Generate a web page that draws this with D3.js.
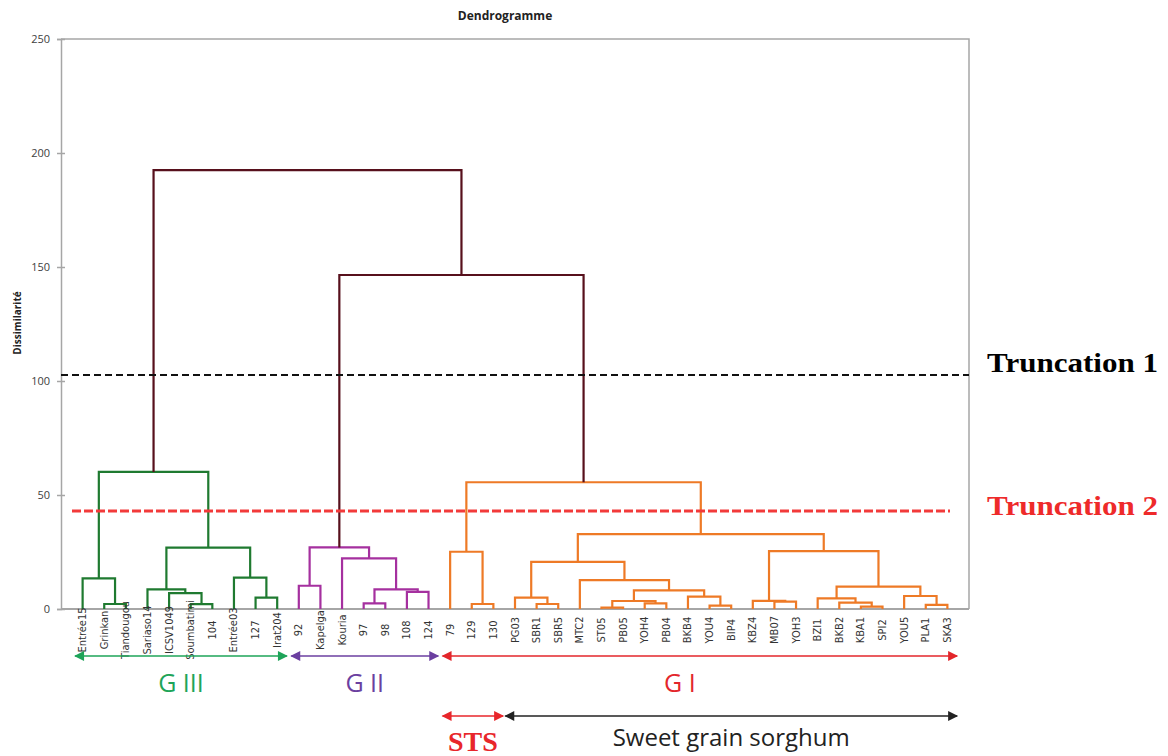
<!DOCTYPE html>
<html>
<head>
<meta charset="utf-8">
<script src="https://cdn.jsdelivr.net/npm/d3@7"></script>
<style>
  html, body { margin: 0; padding: 0; background: #fff; }
  svg { display: block; }
</style>
</head>
<body>
<svg id="chart" width="1168" height="756"></svg>
<script>
// Leaves in dendrogram order
const leaves = [
  "Entrée15", "Grinkan", "Tiandougou", "Sariaso14", "ICSV1049", "Soumbatimi", "104", "Entrée03", "127", "Irat204",
  "92", "Kapelga", "Kouria", "97", "98", "108", "124",
  "79", "129", "130", "PG03", "SBR1", "SBR5", "MTC2", "ST05", "PB05", "YOH4", "PB04", "BKB4", "YOU4", "BIP4",
  "KBZ4", "MB07", "YOH3", "BZI1", "BKB2", "KBA1", "SPI2", "YOU5", "PLA1", "SKA3"
];

// Agglomeration steps: a leaf name, or "#k" for the k-th merge
const mergeLeft = [
  "Grinkan", "Entrée15", "Soumbatimi", "ICSV1049", "Sariaso14", "127", "Entrée03", "#4", "#1",
  "92", "97", "108", "#10", "Kouria", "#9",
  "129", "79", "SBR1", "PG03", "ST05", "YOH4", "#19", "YOU4", "BKB4", "#21", "MTC2", "#18",
  "MB07", "KBZ4", "KBA1", "BKB2", "BZI1", "PLA1", "YOU5", "#31", "#28", "#26", "#16",
  "#14", "#8"
];
const mergeRight = [
  "Tiandougou", "#0", "104", "#2", "#3", "Irat204", "#5", "#6", "#7",
  "Kapelga", "98", "124", "#11", "#12", "#13",
  "130", "#15", "SBR5", "#17", "PB05", "PB04", "#20", "BIP4", "#22", "#23", "#24", "#25",
  "YOH3", "#27", "SPI2", "#29", "#30", "SKA3", "#32", "#33", "#34", "#35", "#36",
  "#37", "#38"
];
const mergeHeight = [
  2.2, 13.4, 2.1, 7.0, 8.6, 5.0, 13.8, 26.9, 60.1,
  10.2, 2.5, 7.5, 8.6, 22.2, 27.0,
  2.2, 25.1, 2.2, 5.0, 0.6, 2.5, 3.5, 1.5, 5.4, 8.2, 12.7, 20.7,
  3.2, 3.6, 1.0, 2.8, 4.7, 1.8, 5.7, 9.8, 25.4, 32.8, 55.6,
  146.5, 192.5
];
// Cluster of each merge: 3 = G III, 2 = G II, 1 = G I, 0 = above the groups
const mergeGroup = [
  3, 3, 3, 3, 3, 3, 3, 3, 3,
  2, 2, 2, 2, 2, 2,
  1, 1, 1, 1, 1, 1, 1, 1, 1, 1, 1, 1,
  1, 1, 1, 1, 1, 1, 1, 1, 1, 1, 1,
  0, 0
];

const yTicks = [0, 50, 100, 150, 200, 250];
const truncationLevels = [102.6, 43.0];
const truncationLabels = ["Truncation 1", "Truncation 2"];

const groupLabels = ["G III", "G II", "G I"];
const groupFirst = ["Entrée15", "92", "79"];
const groupLast = ["Irat204", "124", "SKA3"];

const subLabels = ["STS", "Sweet grain sorghum"];
const subFirst = ["79", "PG03"];
const subLast = ["130", "SKA3"];

// ---- styling ----
const linkColors = { 0: "#57101c", 1: "#ee7a26", 2: "#a5309f", 3: "#1f7a30" };
const groupColors = ["#1ea459", "#6b3fa0", "#e3262b"];
const subColors = ["#e8262b", "#222222"];

const svg = d3.select("#chart");
const plot = { left: 61, right: 969, top: 39, bottom: 609 };

const x = d3.scalePoint().domain(leaves).range([plot.left, plot.right]).padding(1);
const y = d3.scaleLinear().domain([0, 250]).range([plot.bottom, plot.top]);
const step = x.step();

// title
svg.append("text")
  .attr("x", 505).attr("y", 20)
  .attr("text-anchor", "middle")
  .attr("font-family", "Open Sans, Liberation Sans, sans-serif")
  .attr("font-weight", "bold").attr("font-size", 12)
  .attr("fill", "#222")
  .text("Dendrogramme");

// frame (top and right)
svg.append("path")
  .attr("d", `M${plot.left},${plot.top}H${plot.right}V${plot.bottom}`)
  .attr("fill", "none").attr("stroke", "#a6a6a6").attr("stroke-width", 1.5);

// y axis
const yAxis = svg.append("g")
  .attr("transform", `translate(${plot.left},0)`)
  .call(d3.axisLeft(y).tickValues(yTicks).tickSize(4).tickPadding(7));
yAxis.select(".domain").attr("stroke", "#a6a6a6").attr("stroke-width", 1.5);
yAxis.selectAll(".tick line").attr("stroke", "#a6a6a6").attr("stroke-width", 1.5).attr("x2", -4)
  .each(function () { d3.select(this).attr("x1", 4); });
yAxis.selectAll(".tick text")
  .attr("font-family", "Open Sans, Liberation Sans, sans-serif")
  .attr("font-size", 11).attr("fill", "#404040");

svg.append("text")
  .attr("transform", `translate(17,323) rotate(-90)`)
  .attr("text-anchor", "middle").attr("dominant-baseline", "central")
  .attr("font-family", "Open Sans, Liberation Sans, sans-serif")
  .attr("font-weight", "bold").attr("font-size", 10).attr("fill", "#222")
  .text("Dissimilarité");

// bottom axis line
svg.append("line")
  .attr("x1", plot.left).attr("x2", plot.right)
  .attr("y1", y(0)).attr("y2", y(0))
  .attr("stroke", "#a6a6a6").attr("stroke-width", 2);

// resolve merges into nodes with x position and height
const nodes = [];
function resolve(ref) {
  if (ref.startsWith("#")) return nodes[+ref.slice(1)];
  return { x: x(ref), h: 0 };
}
mergeHeight.forEach((h, i) => {
  const a = resolve(mergeLeft[i]);
  const b = resolve(mergeRight[i]);
  nodes.push({ a, b, h, x: (a.x + b.x) / 2, group: mergeGroup[i] });
});

// dendrogram links
svg.append("g")
  .attr("fill", "none").attr("stroke-width", 2.2).attr("stroke-linejoin", "miter")
  .selectAll("path")
  .data(nodes)
  .join("path")
  .attr("stroke", d => linkColors[d.group])
  .attr("d", d => `M${d.a.x},${y(d.a.h)}V${y(d.h)}H${d.b.x}V${y(d.b.h)}`);

// truncation lines
svg.append("line")
  .attr("x1", plot.left).attr("x2", plot.right)
  .attr("y1", y(truncationLevels[0])).attr("y2", y(truncationLevels[0]))
  .attr("stroke", "#111").attr("stroke-width", 2).attr("stroke-dasharray", "7,4");
svg.append("line")
  .attr("x1", 72).attr("x2", 950)
  .attr("y1", y(truncationLevels[1])).attr("y2", y(truncationLevels[1]))
  .attr("stroke", "#f23a3a").attr("stroke-width", 3).attr("stroke-dasharray", "9,3");

svg.selectAll("text.trunc")
  .data(truncationLabels)
  .join("text")
  .attr("class", "trunc")
  .attr("x", 987)
  .attr("y", (d, i) => y(truncationLevels[i]) + (i === 0 ? -3 : 4))
  .attr("font-family", "Liberation Serif, Times New Roman, serif")
  .attr("font-weight", "bold").attr("font-size", 27)
  .attr("textLength", 171).attr("lengthAdjust", "spacingAndGlyphs")
  .attr("fill", (d, i) => i === 0 ? "#000" : "#ee2a2a")
  .text(d => d);

// leaf labels
svg.append("g")
  .selectAll("text")
  .data(leaves)
  .join("text")
  .attr("transform", d => `translate(${x(d)},630) rotate(-90)`)
  .attr("text-anchor", "middle").attr("dominant-baseline", "central")
  .attr("font-family", "Liberation Sans Narrow, DejaVu Sans Condensed, Open Sans, sans-serif")
  .attr("font-size", 11).attr("fill", "#333")
  .text(d => d);

// double-headed arrows
const defs = svg.append("defs");
function marker(id, color) {
  defs.append("marker")
    .attr("id", id).attr("viewBox", "0 0 10 10")
    .attr("refX", 9).attr("refY", 5)
    .attr("markerWidth", 12).attr("markerHeight", 10)
    .attr("markerUnits", "userSpaceOnUse")
    .attr("orient", "auto-start-reverse")
    .append("path").attr("d", "M0,0L10,5L0,10Z").attr("fill", color);
}
function arrow(x1, x2, yy, color, id) {
  marker(id, color);
  svg.append("line")
    .attr("x1", x1).attr("x2", x2).attr("y1", yy).attr("y2", yy)
    .attr("stroke", color).attr("stroke-width", 1.6)
    .attr("marker-start", `url(#${id})`).attr("marker-end", `url(#${id})`);
}
const padL = step * 0.35, padR = step * 0.45;

groupLabels.forEach((g, i) => {
  const x1 = x(groupFirst[i]) - padL, x2 = x(groupLast[i]) + padR;
  arrow(x1, x2, 656, groupColors[i], "mg" + i);
  const cx = i === 2 ? (x1 + x2) / 2 - 20 : (x1 + x2) / 2;
  svg.append("text")
    .attr("x", cx).attr("y", 692)
    .attr("text-anchor", "middle")
    .attr("font-family", "Open Sans, Lato, sans-serif")
    .attr("font-size", 25).attr("fill", groupColors[i])
    .text(g);
});

subLabels.forEach((s, i) => {
  const x1 = x(subFirst[i]) - (i === 0 ? padL : padR), x2 = x(subLast[i]) + padR;
  arrow(x1, x2, 716, subColors[i], "ms" + i);
  svg.append("text")
    .attr("x", (x1 + x2) / 2).attr("y", i === 0 ? 751 : 746)
    .attr("text-anchor", "middle")
    .attr("font-family", i === 0 ? "Liberation Serif, Times New Roman, serif" : "Open Sans, Lato, sans-serif")
    .attr("font-weight", i === 0 ? "bold" : "normal")
    .attr("font-size", i === 0 ? 28 : 24)
    .attr("fill", subColors[i])
    .text(s);
});
</script>
</body>
</html>
